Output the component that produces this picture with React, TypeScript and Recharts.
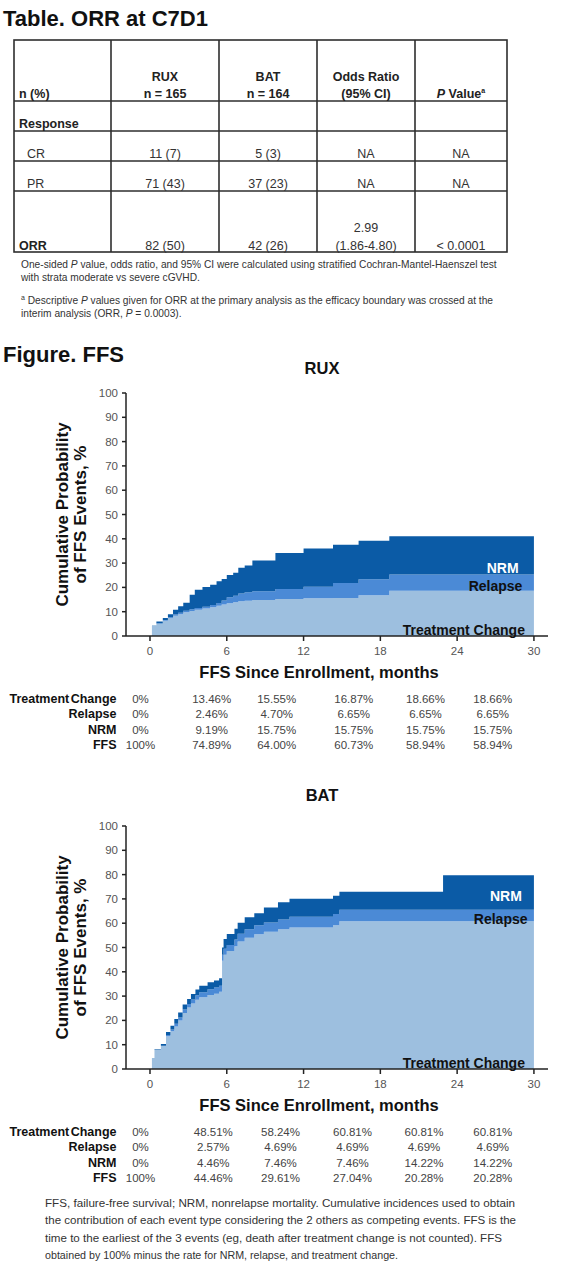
import React from 'react';
import { AreaChart, Area, XAxis, YAxis, ReferenceDot } from 'recharts';

// ---- data ----
const ruxMonths = [0, 0.15, 0.5, 1.0, 1.4, 1.8, 2.2, 2.6, 3.1, 3.5, 4.1, 4.7, 5.2, 5.6, 6.0, 6.5, 6.9, 7.4, 8.0, 9.8, 12.0, 14.3, 16.3, 18.7, 30];
const ruxTreatmentChange = [0, 4.2, 5.0, 6.3, 7.3, 8.3, 9.0, 9.8, 10.3, 10.8, 11.3, 11.8, 12.5, 13.0, 13.46, 13.9, 14.3, 14.5, 14.8, 15.2, 15.55, 15.6, 16.8, 18.66, 18.66];
const ruxRelapse = [0, 0, 0.2, 0.3, 0.4, 0.5, 0.6, 0.6, 0.7, 0.7, 0.7, 1.0, 1.1, 1.6, 2.46, 2.7, 3.2, 3.5, 3.6, 4.1, 4.7, 6.2, 6.6, 6.65, 6.65];
const ruxNrm = [0, 0.1, 0.8, 0.8, 1.3, 2.0, 2.6, 3.3, 6.0, 7.5, 8.2, 8.3, 8.9, 8.9, 9.19, 9.4, 10.6, 11.0, 12.7, 14.9, 15.75, 15.75, 15.75, 15.75, 15.75];

const batMonths = [0, 0.15, 0.35, 0.85, 1.25, 1.6, 1.9, 2.2, 2.55, 2.9, 3.2, 3.55, 3.85, 4.5, 5.0, 5.4, 5.63, 5.75, 6.0, 6.6, 6.85, 7.4, 8.15, 8.9, 10.0, 10.9, 14.3, 14.8, 22.9, 30];
const batTreatmentChange = [0, 4.5, 8.0, 9.5, 13.5, 15.5, 17.5, 20.0, 23.0, 25.3, 27.0, 28.5, 29.5, 30.5, 31.0, 31.8, 44.5, 47.0, 48.51, 50.5, 52.5, 54.0, 55.5, 56.5, 57.5, 58.24, 59.2, 60.81, 60.81, 60.81];
const batRelapse = [0, 0, 0, 0.1, 0.5, 0.8, 1.1, 1.2, 1.5, 1.5, 1.6, 1.9, 2.1, 2.3, 2.5, 2.5, 2.5, 2.5, 2.57, 2.8, 3.2, 3.5, 3.7, 3.8, 4.0, 4.4, 4.6, 4.69, 4.69, 4.69];
const batNrm = [0, 0, 0.2, 0.7, 1.2, 1.5, 2.0, 2.0, 2.0, 2.0, 2.3, 2.3, 2.7, 2.9, 2.9, 3.0, 3.0, 4.0, 4.46, 4.46, 4.46, 4.9, 4.9, 6.2, 7.1, 7.46, 7.46, 7.46, 14.22, 14.22];

const xTicks = [0, 6, 12, 18, 24, 30];
const yTicks = [0, 10, 20, 30, 40, 50, 60, 70, 80, 90, 100];

const riskLabels = ['Treatment Change', 'Relapse', 'NRM', 'FFS'];
const ruxRisk = [
  ['0%', '13.46%', '15.55%', '16.87%', '18.66%', '18.66%'],
  ['0%', '2.46%', '4.70%', '6.65%', '6.65%', '6.65%'],
  ['0%', '9.19%', '15.75%', '15.75%', '15.75%', '15.75%'],
  ['100%', '74.89%', '64.00%', '60.73%', '58.94%', '58.94%'],
];
const batRisk = [
  ['0%', '48.51%', '58.24%', '60.81%', '60.81%', '60.81%'],
  ['0%', '2.57%', '4.69%', '4.69%', '4.69%', '4.69%'],
  ['0%', '4.46%', '7.46%', '7.46%', '14.22%', '14.22%'],
  ['100%', '44.46%', '29.61%', '27.04%', '20.28%', '20.28%'],
];

const ruxN = 'n = 165';
const batN = 'n = 164';
const crRow = ['11 (7)', '5 (3)', 'NA', 'NA'];
const prRow = ['71 (43)', '37 (23)', 'NA', 'NA'];
const orrRow = ['82 (50)', '42 (26)', '(1.86-4.80)', '< 0.0001'];
const orrOddsRatio = '2.99';

// ---- styles ----
const FONT = '"Liberation Sans", Arial, Helvetica, sans-serif';
const LIGHT = '#9dbfdf';
const MID = '#4b8ad6';
const DARK = '#0b5ba6';
const INK = '#111';

const tableCols = [165, 268, 366, 461];
const ruxRiskX = [140.5, 211.7, 276.7, 353.8, 425.5, 492.8];
const batRiskX = [140.5, 213.3, 280.5, 352.5, 424, 492.8];

const XTitle = (props: any) => {
  const vb = props.viewBox || {};
  return (
    <text x={319} y={vb.y + 42} textAnchor="middle" fontFamily={FONT} fontWeight={700} fontSize={16.5} fill={INK}>
      FFS Since Enrollment, months
    </text>
  );
};

const YTitle = (props: any) => {
  const vb = props.viewBox || {};
  const cy = vb.y + vb.height / 2;
  return (
    <g fontFamily={FONT} fontWeight={700} fontSize={17} fill={INK}>
      <text x={68} y={cy} textAnchor="middle" transform={`rotate(-90 68 ${cy})`}>Cumulative Probability</text>
      <text x={86} y={cy} textAnchor="middle" transform={`rotate(-90 86 ${cy})`}>of FFS Events, %</text>
    </g>
  );
};

const InsideLabel = ({ text, color }: { text: string; color: string }) => (props: any) => {
  const vb = props.viewBox || {};
  return (
    <text x={vb.x} y={vb.y + 5} textAnchor="end" fontFamily={FONT} fontWeight={700} fontSize={14} fill={color}>
      {text}
    </text>
  );
};

type ChartProps = {
  months: number[];
  tc: number[];
  relapse: number[];
  nrm: number[];
  labels: { text: string; x: number; y: number; color: string }[];
};

const FfsChart = ({ months, tc, relapse, nrm, labels }: ChartProps) => {
  const data = months.map((m, i) => ({ month: m, tc: tc[i], relapse: relapse[i], nrm: nrm[i] }));
  return (
    <AreaChart width={566} height={301} data={data} margin={{ top: 13, right: 18, bottom: 0, left: 86 }}>
      <XAxis
        dataKey="month"
        type="number"
        domain={[-1.875, 31.1]}
        allowDataOverflow
        ticks={xTicks}
        interval={0}
        height={45}
        tickSize={5}
        tickMargin={6}
        axisLine={{ stroke: '#222', strokeWidth: 1.5 }}
        tickLine={{ stroke: '#222', strokeWidth: 1.5 }}
        tick={{ fill: '#555', fontSize: 11.5, fontFamily: FONT }}
        label={<XTitle />}
      />
      <YAxis
        type="number"
        domain={[0, 100]}
        allowDataOverflow
        ticks={yTicks}
        interval={0}
        width={40}
        tickSize={4}
        tickMargin={4}
        axisLine={{ stroke: '#222', strokeWidth: 1.5 }}
        tickLine={{ stroke: '#222', strokeWidth: 1.5 }}
        tick={{ fill: '#555', fontSize: 11.5, fontFamily: FONT }}
        label={<YTitle />}
      />
      <Area type="stepAfter" dataKey="tc" stackId="ffs" stroke="none" fill={LIGHT} fillOpacity={1} isAnimationActive={false} />
      <Area type="stepAfter" dataKey="relapse" stackId="ffs" stroke="none" fill={MID} fillOpacity={1} isAnimationActive={false} />
      <Area type="stepAfter" dataKey="nrm" stackId="ffs" stroke="none" fill={DARK} fillOpacity={1} isAnimationActive={false} />
      {labels.map((l) => (
        <ReferenceDot key={l.text} x={l.x} y={l.y} r={0} stroke="none" fill="none" label={InsideLabel({ text: l.text, color: l.color })} />
      ))}
    </AreaChart>
  );
};

const RiskTable = ({ rows, xs, baselines }: { rows: string[][]; xs: number[]; baselines: number[] }) => (
  <g fontFamily={FONT}>
    {riskLabels.map((lab, r) => (
      <text key={lab} x={116.5} y={baselines[r]} textAnchor="end" fontWeight={700} fontSize={12.5} fill={INK} wordSpacing={-2}>
        {lab}
      </text>
    ))}
    {rows.map((row, r) =>
      row.map((v, c) => (
        <text key={`${r}-${c}`} x={xs[c]} y={baselines[r]} textAnchor="middle" fontSize={11.5} fill="#444">
          {v}
        </text>
      ))
    )}
  </g>
);

export default function App() {
  const tb = 12.5;
  return (
    <div style={{ position: 'absolute', left: 0, top: 0, width: 566, height: 1280, background: '#fff', fontFamily: FONT }}>
      <svg width={566} height={1280} style={{ position: 'absolute', left: 0, top: 0 }}>
        <text x={3} y={26} fontFamily={FONT} fontWeight={700} fontSize={22} fill={INK}>Table. ORR at C7D1</text>

        {/* table grid */}
        <g stroke="#2e2e2e" strokeWidth={1.6} fill="none">
          <rect x={14} y={40} width={493} height={212} />
          {[111, 219, 317, 415].map((x) => (
            <line key={x} x1={x} y1={40} x2={x} y2={252} />
          ))}
          {[101, 131, 161, 191].map((y) => (
            <line key={y} x1={14} y1={y} x2={507} y2={y} />
          ))}
        </g>
        <g fontFamily={FONT} fontSize={tb} fill="#222">
          <text x={19} y={97.5} fontWeight={700}>n (%)</text>
          <text x={tableCols[0]} y={81} textAnchor="middle" fontWeight={700}>RUX</text>
          <text x={tableCols[0]} y={97.5} textAnchor="middle" fontWeight={700}>{ruxN}</text>
          <text x={tableCols[1]} y={81} textAnchor="middle" fontWeight={700}>BAT</text>
          <text x={tableCols[1]} y={97.5} textAnchor="middle" fontWeight={700}>{batN}</text>
          <text x={tableCols[2]} y={81} textAnchor="middle" fontWeight={700}>Odds Ratio</text>
          <text x={tableCols[2]} y={97.5} textAnchor="middle" fontWeight={700}>(95% CI)</text>
          <text x={tableCols[3]} y={97.5} textAnchor="middle" fontWeight={700}>
            <tspan fontStyle="italic">P</tspan> Value<tspan fontSize={7} dy={-5}>a</tspan>
          </text>
          <text x={19} y={127.5} fontWeight={700}>Response</text>
          <text x={27} y={157.5} fill="#333">CR</text>
          {crRow.map((v, i) => (
            <text key={'cr' + i} x={tableCols[i]} y={157.5} textAnchor="middle" fill="#333">{v}</text>
          ))}
          <text x={27} y={187.5} fill="#333">PR</text>
          {prRow.map((v, i) => (
            <text key={'pr' + i} x={tableCols[i]} y={187.5} textAnchor="middle" fill="#333">{v}</text>
          ))}
          <text x={19} y={249.5} fontWeight={700}>ORR</text>
          <text x={tableCols[2]} y={232} textAnchor="middle" fill="#333">{orrOddsRatio}</text>
          {orrRow.map((v, i) => (
            <text key={'orr' + i} x={tableCols[i]} y={249.5} textAnchor="middle" fill="#333">{v}</text>
          ))}
        </g>

        <g fontFamily={FONT} fontSize={10.2} fill="#333">
          <text x={21} y={268}>
            One-sided <tspan fontStyle="italic">P</tspan> value, odds ratio, and 95% CI were calculated using stratified Cochran-Mantel-Haenszel test
          </text>
          <text x={21} y={281}>with strata moderate vs severe cGVHD.</text>
          <text x={21} y={304}>
            <tspan fontSize={7} dy={-4}>a</tspan>
            <tspan dy={4}> Descriptive </tspan>
            <tspan fontStyle="italic">P</tspan> values given for ORR at the primary analysis as the efficacy boundary was crossed at the
          </text>
          <text x={21} y={316.7}>
            interim analysis (ORR, <tspan fontStyle="italic">P</tspan> = 0.0003).
          </text>
        </g>

        <text x={3} y={362} fontFamily={FONT} fontWeight={700} fontSize={22} fill={INK}>Figure. FFS</text>
        <text x={322} y={374} textAnchor="middle" fontFamily={FONT} fontWeight={700} fontSize={16.5} fill={INK}>RUX</text>
        <text x={322} y={800.5} textAnchor="middle" fontFamily={FONT} fontWeight={700} fontSize={16.5} fill={INK}>BAT</text>

        <RiskTable rows={ruxRisk} xs={ruxRiskX} baselines={[702.5, 718, 733.5, 749]} />
        <RiskTable rows={batRisk} xs={batRiskX} baselines={[1135.5, 1151, 1166.5, 1182]} />

        <g fontFamily={FONT} fontSize={11.5} fill="#333">
          <text x={45} y={1206.5} textLength={470} lengthAdjust="spacingAndGlyphs">
            FFS, failure-free survival; NRM, nonrelapse mortality. Cumulative incidences used to obtain
          </text>
          <text x={45} y={1224} textLength={471} lengthAdjust="spacingAndGlyphs">
            the contribution of each event type considering the 2 others as competing events. FFS is the
          </text>
          <text x={45} y={1241.5} textLength={457} lengthAdjust="spacingAndGlyphs">
            time to the earliest of the 3 events (eg, death after treatment change is not counted). FFS
          </text>
          <text x={45} y={1258.5} textLength={353} lengthAdjust="spacingAndGlyphs">
            obtained by 100% minus the rate for NRM, relapse, and treatment change.
          </text>
        </g>
      </svg>

      <div style={{ position: 'absolute', left: 0, top: 380 }}>
        <FfsChart
          months={ruxMonths}
          tc={ruxTreatmentChange}
          relapse={ruxRelapse}
          nrm={ruxNrm}
          labels={[
            { text: 'NRM', x: 28.8, y: 28.1, color: '#fff' },
            { text: 'Relapse', x: 29.1, y: 20.7, color: INK },
            { text: 'Treatment Change', x: 29.3, y: 2.6, color: INK },
          ]}
        />
      </div>
      <div style={{ position: 'absolute', left: 0, top: 813 }}>
        <FfsChart
          months={batMonths}
          tc={batTreatmentChange}
          relapse={batRelapse}
          nrm={batNrm}
          labels={[
            { text: 'NRM', x: 29.06, y: 71.2, color: '#fff' },
            { text: 'Relapse', x: 29.5, y: 61.7, color: INK },
            { text: 'Treatment Change', x: 29.3, y: 2.5, color: INK },
          ]}
        />
      </div>
    </div>
  );
}
